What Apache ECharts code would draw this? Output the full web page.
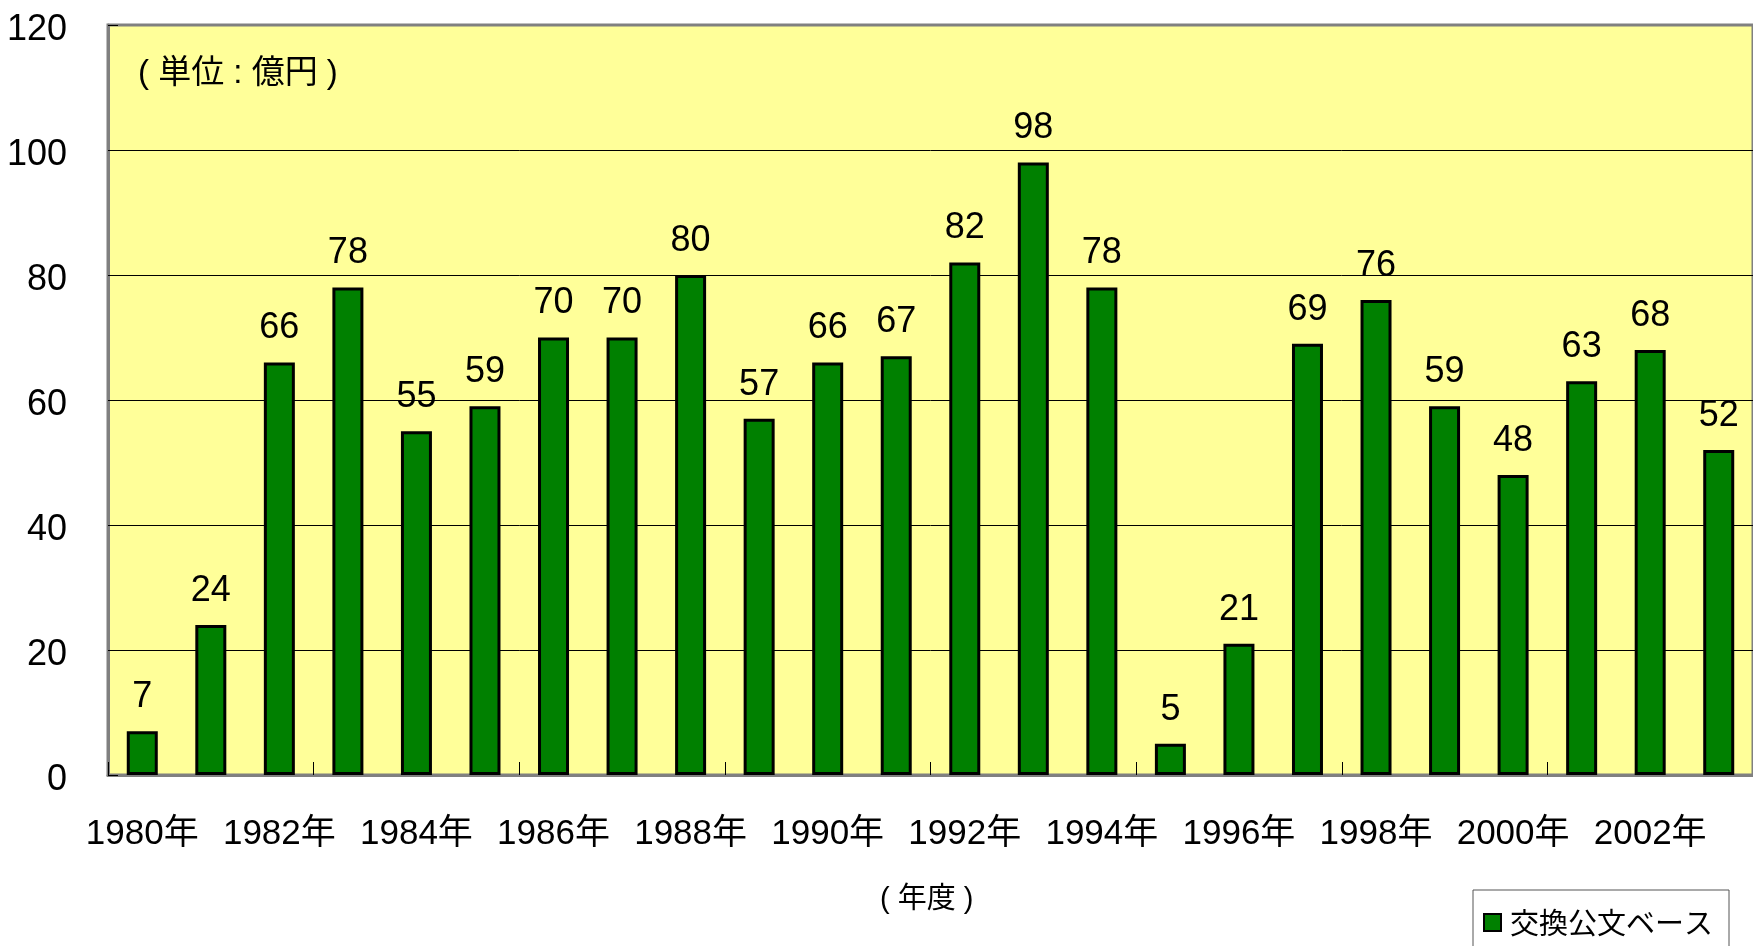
<!DOCTYPE html>
<html>
<head>
<meta charset="utf-8">
<script src="https://cdn.jsdelivr.net/npm/echarts@6/dist/echarts.min.js"></script>
<style>
html,body{margin:0;padding:0;background:#fff;}
#c{width:1753px;height:946px;}
</style>
</head>
<body>
<div id="c"></div>
<script>
const years = ['1980年','1981年','1982年','1983年','1984年','1985年','1986年','1987年','1988年','1989年','1990年','1991年','1992年','1993年','1994年','1995年','1996年','1997年','1998年','1999年','2000年','2001年','2002年','2003年'];
const values = [7, 24, 66, 78, 55, 59, 70, 70, 80, 57, 66, 67, 82, 98, 78, 5, 21, 69, 76, 59, 48, 63, 68, 52];
const seriesName = '交換公文ベース';
const unitText = '( 単位 : 億円 )';
const xName = '( 年度 )';

const FONT = "'Liberation Sans', 'Noto Sans CJK JP', sans-serif";
const chart = echarts.init(document.getElementById('c'), null, {renderer: 'canvas'});
chart.setOption({
  backgroundColor: '#ffffff',
  animation: false,
  textStyle: {fontFamily: FONT, color: '#000'},
  grid: {
    left: 108, top: 25, right: -7, bottom: 171,
    show: true, backgroundColor: '#FFFF99', borderColor: '#808080', borderWidth: 3
  },
  legend: {
    show: true,
    data: [seriesName],
    left: 1473, top: 890,
    orient: 'vertical',
    padding: [18, 16, 40, 10],
    borderColor: '#555', borderWidth: 1,
    backgroundColor: '#fff',
    icon: 'rect', itemWidth: 17, itemHeight: 17, itemGap: 0,
    textStyle: {fontFamily: "'Noto Sans CJK JP', sans-serif", fontSize: 29, color: '#000', padding: [0,0,0,4]},
    itemStyle: {borderColor: '#000', borderWidth: 2}
  },
  xAxis: {
    type: 'category',
    data: years,
    boundaryGap: true,
    axisLine: {show: true, lineStyle: {color: '#808080', width: 3}},
    axisTick: {show: true, inside: true, length: 13, interval: function (idx) { return idx % 3 === 0; }, lineStyle: {color: '#000', width: 1}},
    axisLabel: {interval: 1, margin: 42, fontSize: 35, fontFamily: FONT, color: '#000'},
    splitLine: {show: false}
  },
  yAxis: {
    type: 'value',
    min: 0, max: 120, interval: 20,
    axisLine: {show: true, lineStyle: {color: '#808080', width: 3}},
    axisTick: {show: true, inside: true, length: 10, lineStyle: {color: '#000', width: 1}},
    axisLabel: {margin: 41, fontSize: 36, fontFamily: FONT, color: '#000', verticalAlign: 'top', lineHeight: 10},
    splitLine: {show: true, lineStyle: {color: ['#808080', '#000', '#000', '#000', '#000', '#000', '#808080'], width: 1}}
  },
  series: [{
    name: seriesName,
    type: 'bar',
    data: values,
    barWidth: 31,
    itemStyle: {color: '#008000', borderColor: '#000', borderWidth: 3},
    label: {show: true, position: 'top', distance: 16, fontSize: 36, fontFamily: FONT, color: '#000'}
  }],
  graphic: [
    {type: 'text', left: 138, top: 57, style: {text: unitText, font: "33px 'Liberation Sans', 'Noto Sans CJK JP', sans-serif", fill: '#000'}},
    {type: 'text', left: 880, top: 885, style: {text: xName, font: "29px 'Liberation Sans', 'Noto Sans CJK JP', sans-serif", fill: '#000'}}
  ]
});
</script>
</body>
</html>
